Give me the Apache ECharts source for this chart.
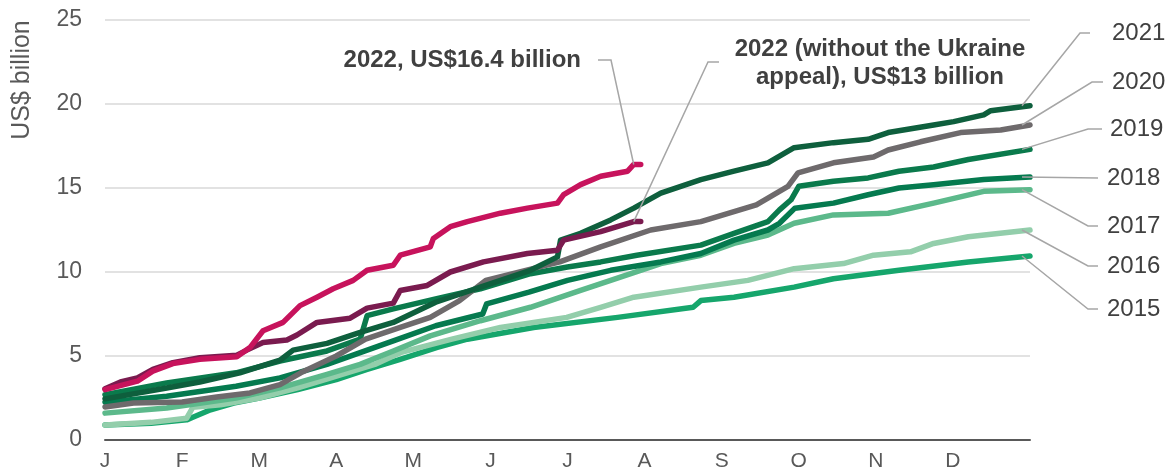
<!DOCTYPE html>
<html lang="en">
<head>
    <meta charset="UTF-8">
    <title>Cumulative funding by year</title>
    <script src="https://cdn.jsdelivr.net/npm/echarts@6/dist/echarts.min.js"></script>
</head>
<style>
    html, body { margin: 0; padding: 0; background: #fff; }
    #container { width: 1170px; height: 473px; }
</style>
<body>
<div id="container"></div>
<script>
    // month tick labels (x is measured in months from 1 January)
    var months = ['J', 'F', 'M', 'A', 'M', 'J', 'J', 'A', 'S', 'O', 'N', 'D'];
    var yTicks = [0, 5, 10, 15, 20, 25];

    // cumulative totals, US$ billion, [month, value]
    var y2015 = [[0, 0.9], [0.6, 1.0], [1.06, 1.2], [1.14, 1.35], [1.37, 1.8], [1.67, 2.2], [2.0, 2.5], [2.5, 3.0], [3.0, 3.6], [3.4, 4.2], [3.83, 4.8], [4.3, 5.5], [4.7, 6.0], [5.56, 6.7], [6.65, 7.3], [7.63, 7.9], [7.73, 8.3], [8.16, 8.5], [8.94, 9.1], [9.45, 9.6], [10.3, 10.1], [11.2, 10.6], [12, 10.95]];
    var y2016 = [[0, 0.9], [0.6, 1.05], [1.06, 1.3], [1.14, 1.95], [1.5, 2.1], [2.0, 2.5], [2.5, 3.1], [2.96, 3.75], [3.5, 4.5], [3.83, 5.2], [4.5, 6.0], [5.13, 6.7], [5.99, 7.3], [6.43, 7.9], [6.86, 8.5], [7.73, 9.1], [8.34, 9.5], [8.94, 10.2], [9.58, 10.5], [9.97, 11.0], [10.45, 11.2], [10.75, 11.7], [11.2, 12.1], [12, 12.5]];
    var y2017 = [[0, 1.6], [0.8, 1.9], [1.7, 2.5], [2.27, 3.1], [2.88, 3.9], [3.31, 4.5], [3.74, 5.3], [4.22, 6.2], [4.87, 7.1], [5.52, 7.9], [6.17, 8.9], [6.56, 9.5], [7.21, 10.5], [7.73, 11.0], [8.16, 11.7], [8.6, 12.2], [8.94, 12.9], [9.45, 13.4], [10.16, 13.5], [10.75, 14.1], [11.4, 14.8], [12, 14.9]];
    var y2018 = [[0, 2.25], [0.8, 2.6], [1.7, 3.2], [2.27, 3.7], [2.88, 4.5], [3.31, 5.2], [3.74, 5.9], [4.29, 6.8], [4.9, 7.5], [4.95, 8.1], [5.5, 8.8], [6.0, 9.5], [6.56, 10.1], [7.21, 10.6], [7.73, 11.1], [8.16, 11.9], [8.6, 12.5], [8.75, 12.9], [8.95, 13.8], [9.45, 14.1], [9.9, 14.6], [10.3, 15.0], [10.75, 15.2], [11.4, 15.5], [12, 15.65]];
    var y2019 = [[0, 2.7], [0.8, 3.4], [1.7, 4.0], [2.27, 4.7], [2.88, 5.3], [3.31, 6.0], [3.4, 7.4], [3.74, 7.8], [4.29, 8.4], [4.87, 9.0], [5.52, 9.9], [6.0, 10.3], [6.43, 10.6], [6.9, 11.0], [7.73, 11.6], [8.16, 12.3], [8.6, 13.0], [8.75, 13.7], [8.9, 14.3], [9.0, 15.1], [9.45, 15.4], [9.9, 15.6], [10.3, 16.0], [10.75, 16.25], [11.2, 16.7], [12, 17.3]];
    var y2020 = [[0, 1.97], [0.37, 2.2], [1.0, 2.26], [1.45, 2.56], [1.88, 2.8], [2.27, 3.3], [2.54, 4.0], [3.0, 5.0], [3.38, 6.0], [3.83, 6.7], [4.22, 7.3], [4.6, 8.3], [4.94, 9.5], [5.9, 10.6], [6.43, 11.5], [7.08, 12.5], [7.73, 13.0], [8.45, 14.0], [8.6, 14.4], [8.86, 15.1], [8.99, 15.9], [9.45, 16.5], [9.97, 16.85], [10.16, 17.26], [10.58, 17.75], [11.1, 18.3], [11.62, 18.45], [12, 18.75]];
    var y2021 = [[0, 2.45], [0.8, 3.1], [1.23, 3.45], [1.75, 4.0], [2.27, 4.75], [2.44, 5.35], [2.88, 5.75], [3.31, 6.4], [3.74, 7.0], [4.29, 8.2], [4.87, 9.1], [5.52, 10.1], [5.87, 10.9], [5.91, 11.9], [6.17, 12.3], [6.56, 13.1], [6.86, 13.8], [7.21, 14.7], [7.73, 15.5], [8.16, 16.0], [8.6, 16.5], [8.94, 17.4], [9.45, 17.7], [9.9, 17.9], [10.16, 18.3], [10.75, 18.75], [11.01, 18.95], [11.4, 19.35], [11.49, 19.6], [12, 19.9]];
    var y2022NoUkraine = [[0, 3.05], [0.2, 3.45], [0.42, 3.7], [0.62, 4.2], [0.88, 4.6], [1.23, 4.9], [1.71, 5.05], [1.84, 5.35], [2.05, 5.8], [2.36, 5.95], [2.49, 6.25], [2.75, 7.0], [3.18, 7.25], [3.4, 7.85], [3.74, 8.15], [3.83, 8.9], [4.18, 9.2], [4.48, 10.0], [4.91, 10.6], [5.48, 11.1], [5.87, 11.3], [5.95, 11.9], [6.43, 12.4], [6.86, 13.0], [6.95, 13.0]];
    var y2022 = [[0, 3.0], [0.42, 3.5], [0.62, 4.1], [0.88, 4.55], [1.23, 4.8], [1.71, 4.95], [1.88, 5.5], [2.05, 6.5], [2.31, 7.0], [2.53, 8.0], [2.75, 8.5], [2.96, 9.0], [3.22, 9.5], [3.4, 10.1], [3.74, 10.4], [3.83, 11.0], [4.22, 11.5], [4.26, 12.0], [4.48, 12.7], [4.7, 13.0], [5.13, 13.5], [5.48, 13.8], [5.87, 14.1], [5.95, 14.6], [6.17, 15.2], [6.43, 15.7], [6.78, 16.0], [6.86, 16.4], [6.95, 16.4]];

    var chart = echarts.init(document.getElementById('container'));

    var font = '"Liberation Sans", Arial, sans-serif';

    // series styles, drawn back to front
    var lines = [
        {name: '2015', data: y2015, color: '#16a66c'},
        {name: '2016', data: y2016, color: '#93ceab'},
        {name: '2017', data: y2017, color: '#5cb98b'},
        {name: '2018', data: y2018, color: '#057a4f'},
        {name: '2019', data: y2019, color: '#0a7a4c'},
        {name: '2020', data: y2020, color: '#6e6a6c'},
        {name: '2021', data: y2021, color: '#0e5f3d'},
        {name: '2022 (without the Ukraine appeal)', data: y2022NoUkraine, color: '#7a1b4f'},
        {name: '2022', data: y2022, color: '#c7135c'}
    ];

    var option = {
        animation: false,
        grid: {left: 105, right: 140, top: 20, bottom: 33},
        xAxis: {
            type: 'value',
            min: 0,
            max: 12,
            interval: 1,
            axisLine: {show: true, lineStyle: {color: '#595959', width: 2}},
            axisTick: {show: false},
            splitLine: {show: false},
            axisLabel: {
                color: '#595959',
                fontSize: 21,
                fontFamily: font,
                margin: 11,
                formatter: function (v) { return months[v] || ''; }
            }
        },
        yAxis: {
            type: 'value',
            min: yTicks[0],
            max: yTicks[yTicks.length - 1],
            interval: 5,
            axisLine: {show: false},
            axisTick: {show: false},
            splitLine: {lineStyle: {color: '#d9d9d9', width: 1.5}},
            axisLabel: {color: '#595959', fontSize: 23, fontFamily: font, margin: 23}
        },
        series: lines.map(function (l) {
            return {
                name: l.name,
                type: 'line',
                data: l.data,
                showSymbol: false,
                symbol: 'none',
                silent: true,
                lineStyle: {color: l.color, width: 5.5, cap: 'round', join: 'round'}
            };
        })
    };
    chart.setOption(option);

    // label placement (pixels) with elbow of each leader line
    var yearLabels = [
        {name: '2021', x: 1112, y: 33, elbow: [[1090, 33], [1080, 33]]},
        {name: '2020', x: 1112, y: 82, elbow: [[1103, 82], [1092, 82]]},
        {name: '2019', x: 1110, y: 129, elbow: [[1102, 129], [1088, 129]]},
        {name: '2018', x: 1107, y: 178, elbow: [[1098, 178]]},
        {name: '2017', x: 1107, y: 226, elbow: [[1098, 226], [1088, 226]]},
        {name: '2016', x: 1107, y: 266, elbow: [[1098, 266], [1088, 266]]},
        {name: '2015', x: 1107, y: 309, elbow: [[1098, 309], [1088, 309]]}
    ];

    function endPixel(name, dx) {
        var l = lines.filter(function (s) { return s.name === name; })[0];
        var p = chart.convertToPixel({gridIndex: 0}, l.data[l.data.length - 1]);
        return [p[0] - dx, p[1]];
    }

    var graphics = [];
    var leader = {stroke: '#a6a6a6', lineWidth: 1.5, fill: null};

    yearLabels.forEach(function (lab) {
        var pts = lab.elbow.concat([endPixel(lab.name, 8)]);
        graphics.push({type: 'polyline', shape: {points: pts}, style: leader, z: 5});
        graphics.push({
            type: 'text', x: lab.x, y: lab.y,
            style: {text: lab.name, fill: '#404040', font: '24px ' + font, textAlign: 'left', textVerticalAlign: 'middle'}
        });
    });

    // 2022 annotations
    graphics.push({type: 'polyline', shape: {points: [[598, 60], [611, 60], endPixel('2022', 7)]}, style: leader, z: 5});
    graphics.push({
        type: 'text', x: 581, y: 60,
        style: {text: '2022, US$16.4 billion', fill: '#404040', font: 'bold 24px ' + font, textAlign: 'right', textVerticalAlign: 'middle'}
    });
    graphics.push({type: 'polyline', shape: {points: [[719, 62], [708, 62], endPixel('2022 (without the Ukraine appeal)', 7)]}, style: leader, z: 5});
    graphics.push({
        type: 'text', x: 880, y: 63,
        style: {text: '2022 (without the Ukraine\nappeal), US$13 billion', fill: '#404040', font: 'bold 24px ' + font, lineHeight: 28, textAlign: 'center', textVerticalAlign: 'middle'}
    });

    // axis title
    graphics.push({
        type: 'text', x: 22, y: 80, rotation: Math.PI / 2,
        style: {text: 'US$ billion', fill: '#595959', font: '25px ' + font, textAlign: 'center', textVerticalAlign: 'middle'}
    });

    chart.setOption({graphic: graphics});
</script>
</body>
</html>
